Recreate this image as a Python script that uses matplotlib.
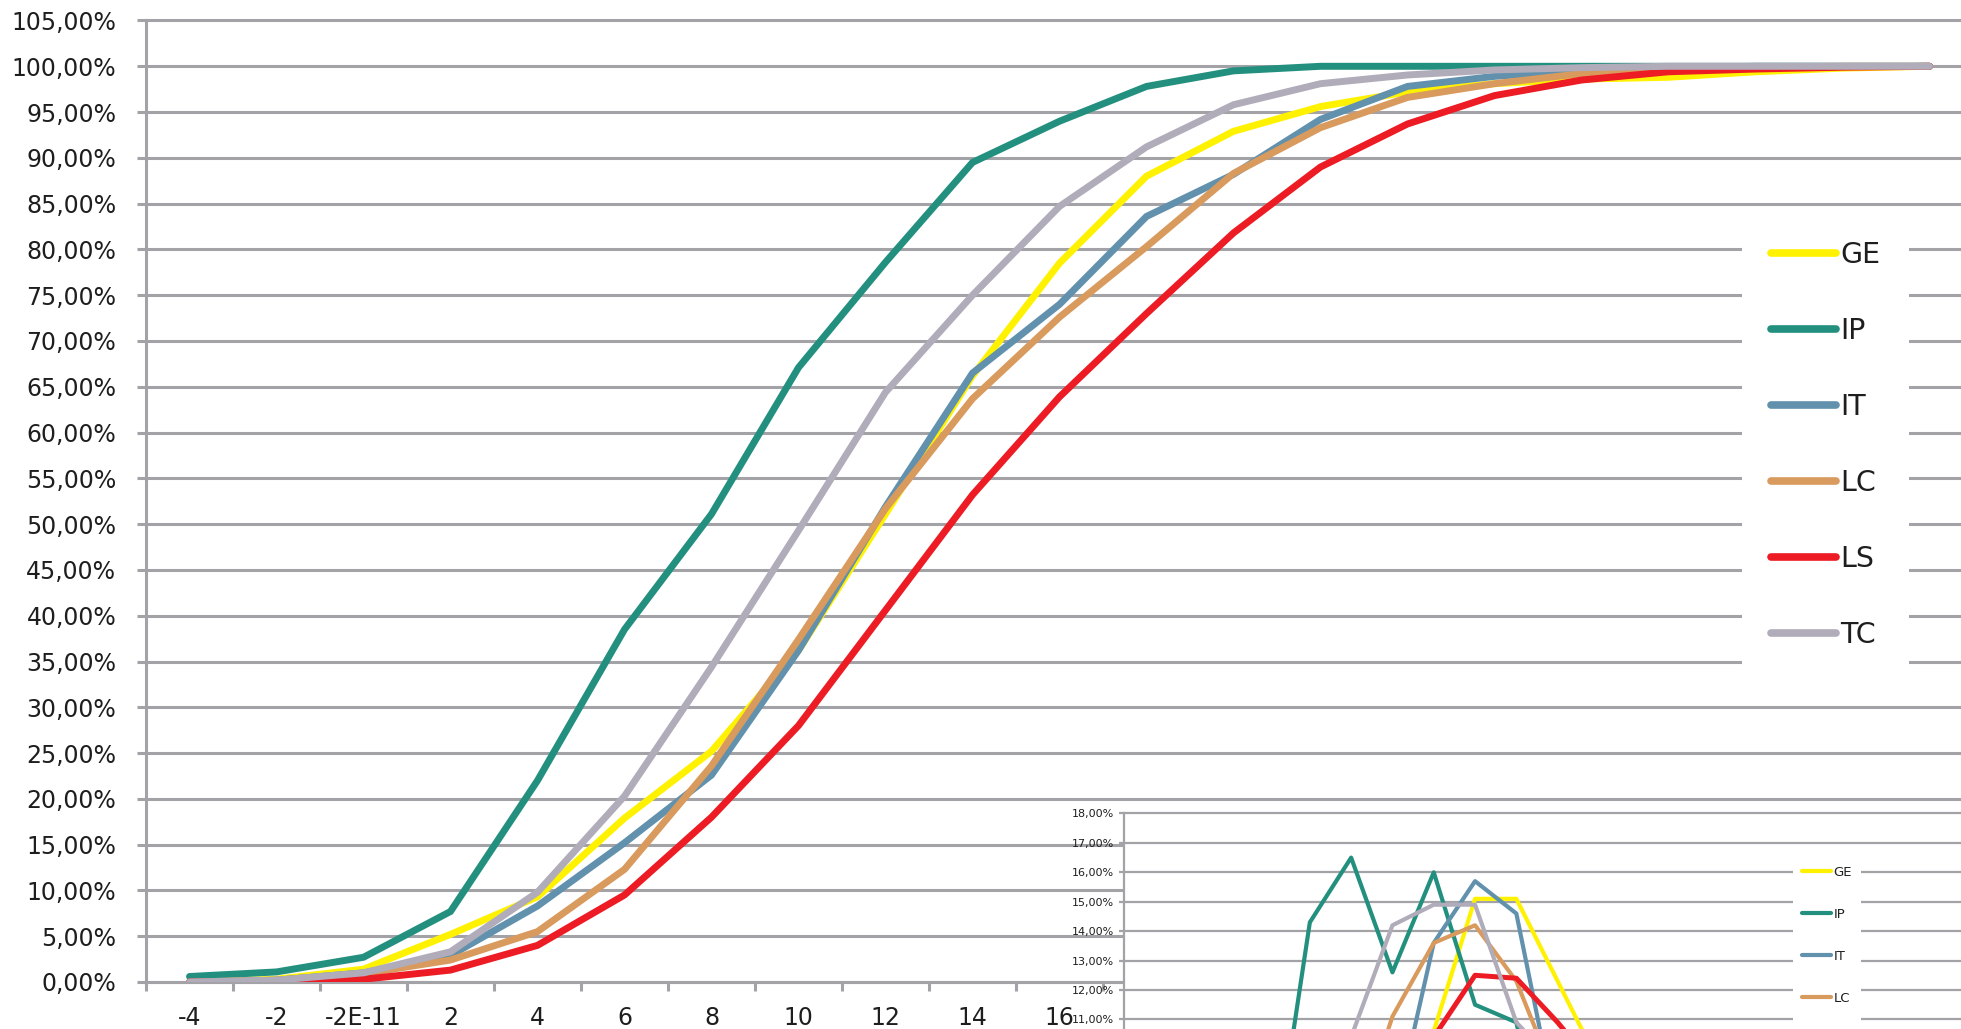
import numpy as np
from matplotlib import pyplot as plt

plt.rcParams['font.family'] = ['DejaVu Sans']

# categories on the x axis (Excel category labels)
categories = ['-4', '-2', '-2E-11', '2', '4', '6', '8', '10', '12', '14', '16',
              '18', '20', '22', '24', '26', '28', '30', '32', '34', '36']
series_names = ['GE', 'IP', 'IT', 'LC', 'LS', 'TC']

# cumulative share (%) per category, main chart
cdf_ge = [0.0, 0.3, 1.4, 5.2, 9.3, 17.9, 25.2, 36.2, 51.1, 66.2, 78.5,
          88.0, 92.9, 95.6, 97.2, 98.1, 98.6, 98.8, 99.4, 99.8, 100.0]
cdf_ip = [0.6, 1.1, 2.7, 7.7, 22.0, 38.5, 51.1, 67.1, 78.6, 89.5, 94.0,
          97.8, 99.5, 100.0, 100.0, 100.0, 100.0, 100.0, 100.0, 100.0, 100.0]
cdf_it = [0.0, 0.2, 1.0, 2.9, 8.3, 15.2, 22.6, 36.2, 51.9, 66.5, 74.0,
          83.6, 88.2, 94.2, 97.8, 98.9, 99.5, 99.8, 100.0, 100.0, 100.0]
cdf_lc = [0.0, 0.2, 0.9, 2.4, 5.5, 12.3, 23.6, 37.4, 51.7, 63.7, 72.6,
          80.3, 88.3, 93.3, 96.6, 98.1, 99.2, 99.6, 99.9, 100.0, 100.0]
cdf_ls = [0.0, 0.0, 0.3, 1.3, 4.0, 9.5, 18.0, 28.0, 40.6, 53.2, 63.9,
          73.0, 81.8, 89.0, 93.7, 96.8, 98.5, 99.4, 99.7, 99.9, 100.0]
cdf_tc = [0.0, 0.2, 1.0, 3.3, 9.8, 20.3, 34.4, 49.3, 64.4, 75.0, 84.7,
          91.2, 95.8, 98.1, 99.05, 99.6, 99.85, 100.0, 100.0, 100.0, 100.0]

# share (%) per category, inset chart
pdf_ge = [0.0, 0.3, 1.1, 3.8, 4.1, 8.5, 7.4, 10.6, 15.1, 15.1, 12.3,
          9.5, 4.9, 2.7, 1.6, 0.9, 0.5, 0.2, 0.6, 0.4, 0.2]
pdf_ip = [0.6, 0.5, 1.6, 5.0, 14.3, 16.5, 12.6, 16.0, 11.5, 10.9, 4.5,
          3.8, 1.7, 0.5, 0.0, 0.0, 0.0, 0.0, 0.0, 0.0, 0.0]
pdf_it = [0.0, 0.2, 0.8, 1.9, 5.4, 6.9, 7.4, 13.6, 15.7, 14.6, 7.7,
          9.4, 4.7, 5.9, 3.6, 1.1, 0.6, 0.3, 0.2, 0.0, 0.0]
pdf_lc = [0.0, 0.2, 0.7, 1.5, 3.1, 6.8, 11.1, 13.6, 14.2, 12.3, 8.8,
          7.7, 7.7, 5.2, 3.3, 1.4, 1.1, 0.4, 0.3, 0.1, 0.0]
pdf_ls = [0.0, 0.0, 0.3, 1.0, 2.7, 5.5, 8.3, 10.4, 12.5, 12.4, 10.9,
          9.2, 8.8, 7.2, 4.6, 3.2, 1.7, 0.9, 0.3, 0.2, 0.1]
pdf_tc = [0.0, 0.2, 0.8, 2.3, 6.5, 10.4, 14.2, 14.9, 14.9, 10.9, 9.4,
          6.6, 4.5, 2.3, 0.95, 0.55, 0.25, 0.15, 0.0, 0.0, 0.0]

colors = ['#fff200', '#23907f', '#6191ad', '#d99a5e', '#ed1c24', '#b1acba']
grid_color = '#a3a3a7'
text_color = '#1e1e1e'

W, H = 1961, 1029


def pct(v, _=None):
    return f'{v:.2f}%'.replace('.', ',')


fig = plt.figure(figsize=(W / 100, H / 100), dpi=100)
fig.patch.set_facecolor('white')

# ---- main chart ----
ax = fig.add_axes([146 / W, (H - 982) / H, 21 * 87 / W, 961.5 / H])
x = np.arange(len(categories))
cdfs = [cdf_ge, cdf_ip, cdf_it, cdf_lc, cdf_ls, cdf_tc]
for name, vals, c in zip(series_names, cdfs, colors):
    ax.plot(x, vals, color=c, lw=5, label=name, solid_capstyle='round',
            solid_joinstyle='miter', zorder=3)

ax.set_xlim(-0.5, len(categories) - 0.5)
ax.set_ylim(0, 105)
ax.set_yticks(np.arange(0, 106, 5))
ax.yaxis.set_major_formatter(plt.FuncFormatter(pct))
ax.set_xticks(x)
ax.set_xticklabels(categories)
ax.set_xticks(np.arange(-0.5, len(categories), 1), minor=True)
ax.yaxis.grid(True, color=grid_color, lw=2.2)
for gl in ax.get_ygridlines():
    gl.set_clip_on(False)
ax.set_axisbelow(True)
for s in ['top', 'right']:
    ax.spines[s].set_visible(False)
for s in ['left', 'bottom']:
    ax.spines[s].set_color(grid_color)
    ax.spines[s].set_linewidth(2.2)
ax.tick_params(axis='y', length=6.5, width=2.2, color=grid_color, pad=15,
               labelsize=17, labelcolor=text_color)
ax.tick_params(axis='x', which='major', length=0, pad=17, labelsize=17,
               labelcolor=text_color)
ax.tick_params(axis='x', which='minor', length=6.5, width=2.2, color=grid_color)

leg = ax.legend(loc='upper left', bbox_to_anchor=(1728 / W, 1 - 198 / H),
                bbox_transform=fig.transFigure, fontsize=20.5, frameon=True,
                facecolor='white', edgecolor='none', framealpha=1,
                fancybox=False, borderpad=1.0, handlelength=2.3,
                handletextpad=0.15, labelspacing=1.69)
for t in leg.get_texts():
    t.set_color(text_color)
for h in leg.legend_handles:
    h.set_linewidth(5.5)

# ---- inset chart ----
cat_w = 41.3
ins = fig.add_axes([1124 / W, (H - 1343) / H, 21 * cat_w / W, 529.5 / H])
ins.set_facecolor('white')
pdfs = [pdf_ge, pdf_ip, pdf_it, pdf_lc, pdf_ls, pdf_tc]
for name, vals, c in zip(series_names, pdfs, colors):
    ins.plot(x, vals, color=c, lw=3 if name != 'LS' else 3.6, label=name,
             solid_capstyle='round', zorder=3)
ins.set_xlim(-0.5, len(categories) - 0.5)
ins.set_ylim(0, 18)
ins.set_yticks(np.arange(0, 19, 1))
ins.yaxis.set_major_formatter(plt.FuncFormatter(pct))
ins.set_xticks(x)
ins.set_xticklabels(categories)
ins.yaxis.grid(True, color=grid_color, lw=1.6)
for gl in ins.get_ygridlines():
    gl.set_clip_on(False)
ins.set_axisbelow(True)
for s in ['top', 'right']:
    ins.spines[s].set_visible(False)
for s in ['left', 'bottom']:
    ins.spines[s].set_color(grid_color)
    ins.spines[s].set_linewidth(1.6)
ins.tick_params(axis='y', length=3.5, width=1.6, color=grid_color, pad=4,
                labelsize=8, labelcolor=text_color)
ins.tick_params(axis='x', length=0, labelsize=8, labelcolor=text_color)

ileg = ins.legend(loc='upper left', bbox_to_anchor=(1786 / W, 1 - 850 / H),
                  bbox_transform=fig.transFigure, fontsize=9.5, frameon=True,
                  facecolor='white', edgecolor='none', framealpha=1,
                  fancybox=False, borderpad=0.7, handlelength=2.2,
                  handletextpad=0.2, labelspacing=2.2)
for t in ileg.get_texts():
    t.set_color(text_color)

plt.savefig('out.png', dpi=100, facecolor='white')
plt.close(fig)
